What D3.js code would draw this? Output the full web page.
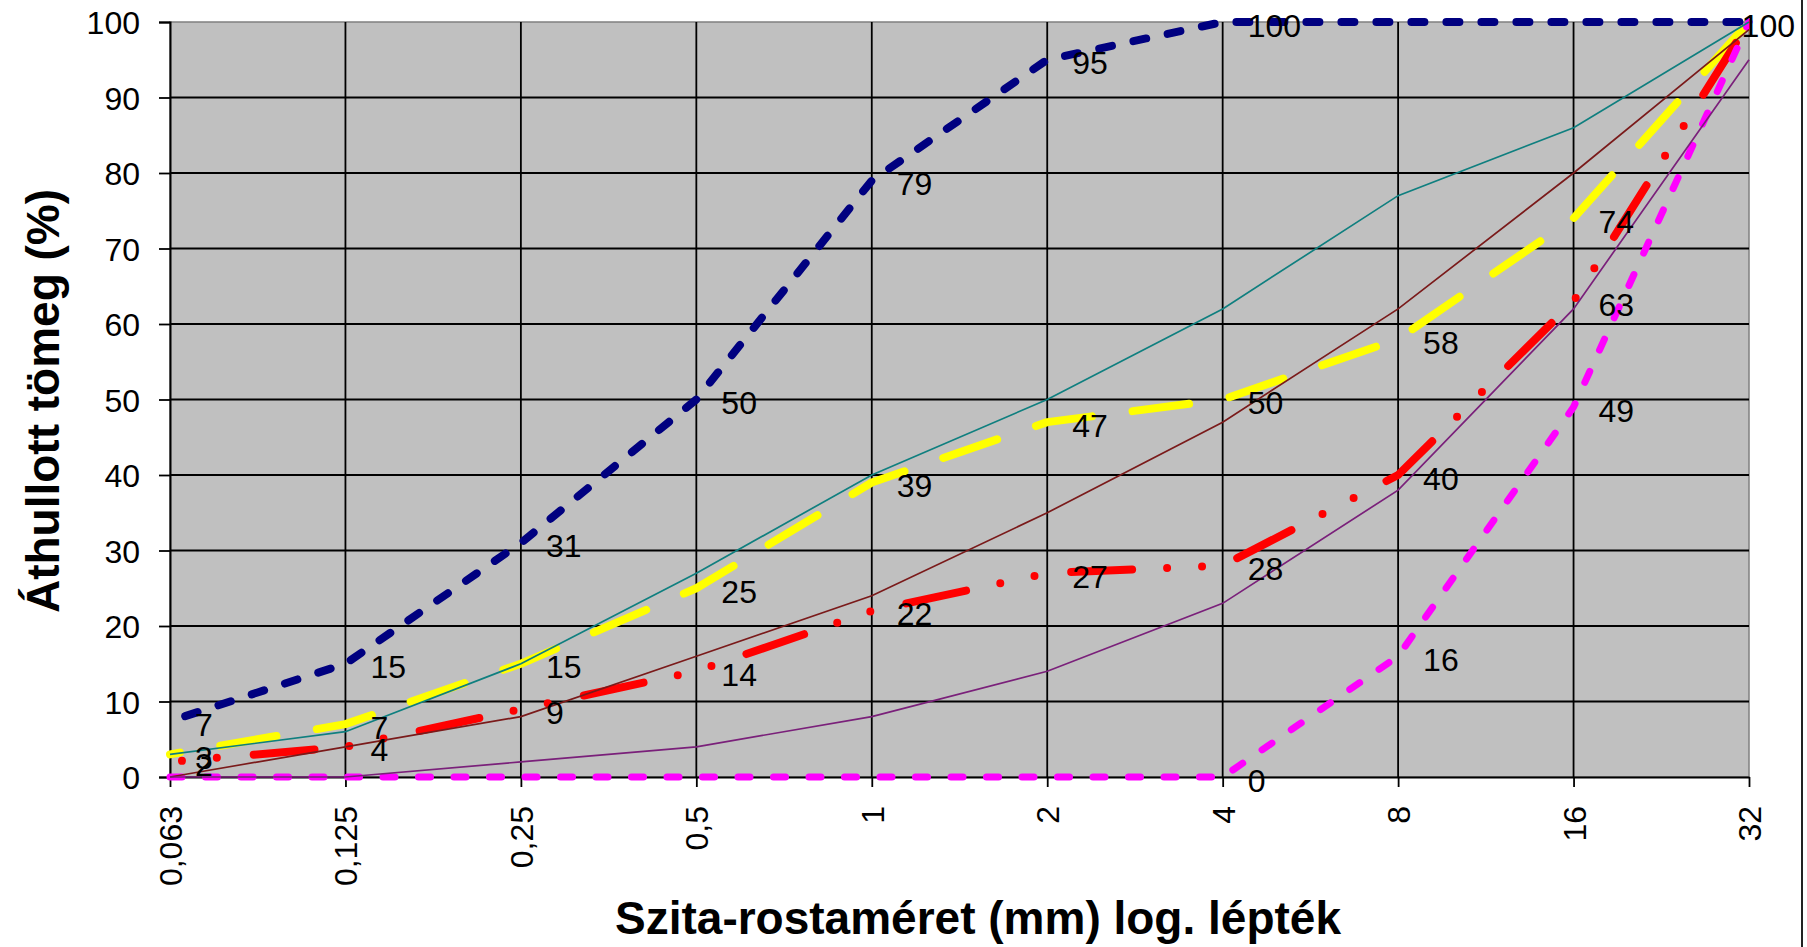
<!DOCTYPE html>
<html>
<head>
<meta charset="utf-8">
<script src="https://cdn.jsdelivr.net/npm/d3@7"></script>
<style>
  body { margin: 0; background: #fff; }
  svg text { font-family: "Liberation Sans", Arial, sans-serif; }
</style>
</head>
<body>
<svg id="chart" width="1807" height="947"></svg>
<script>
// sieve sizes (category axis, log steps)
const sieveSizes = ["0,063", "0,125", "0,25", "0,5", "1", "2", "4", "8", "16", "32"];
const yTicks = [0, 10, 20, 30, 40, 50, 60, 70, 80, 90, 100];

// passing mass (%) for each sample
const sampleNavy    = [7.4, 15, 31, 50, 79, 95, 100, 100, 100, 100];
const sampleYellow  = [3, 7, 15, 25, 39, 47, 50, 58, 74, 100];
const sampleRed     = [2, 4, 9, 14, 22, 27, 28, 40, 63, 100];
const sampleMagenta = [0, 0, 0, 0, 0, 0, 0, 16, 49, 100];

// limit curves (thin lines, no labels)
const limitTeal   = [3, 6, 15, 27, 40, 50, 62, 77, 86, 100];
const limitBrown  = [0, 4, 8, 16, 24, 35, 47, 62, 80, 99];
const limitPurple = [0, 0, 2, 4, 8, 14, 23, 38, 62, 95];

// which points carry a data label
const labelsNavy    = [0, 1, 2, 3, 4, 5, 6];
const labelsYellow  = [0, 1, 2, 3, 4, 5, 6, 7, 8, 9];
const labelsRed     = [0, 1, 2, 3, 4, 5, 6, 7, 8];
const labelsMagenta = [6, 7, 8];

const margin = { left: 170, right: 1749, top: 22, bottom: 777 };

const svg = d3.select("#chart");

const x = d3.scalePoint().domain(sieveSizes).range([margin.left, margin.right]).padding(0);
const y = d3.scaleLinear().domain([0, 100]).range([margin.bottom, margin.top]);

// plot area
svg.append("rect")
  .attr("x", margin.left).attr("y", margin.top)
  .attr("width", margin.right - margin.left)
  .attr("height", margin.bottom - margin.top)
  .attr("fill", "#c0c0c0")
  .attr("stroke", "#808080")
  .attr("stroke-width", 1.5);

// gridlines
svg.append("g").selectAll("line")
  .data(yTicks.filter(d => d > 0 && d < 100))
  .enter().append("line")
  .attr("x1", margin.left).attr("x2", margin.right)
  .attr("y1", d => y(d)).attr("y2", d => y(d))
  .attr("stroke", "#000").attr("stroke-width", 1.8);

svg.append("g").selectAll("line")
  .data(sieveSizes.slice(1, -1))
  .enter().append("line")
  .attr("x1", d => x(d)).attr("x2", d => x(d))
  .attr("y1", margin.top).attr("y2", margin.bottom)
  .attr("stroke", "#000").attr("stroke-width", 1.8);

// y axis
const yAxis = svg.append("g")
  .attr("transform", `translate(${margin.left},0)`)
  .call(d3.axisLeft(y).tickValues(yTicks).tickSize(11).tickPadding(19));
yAxis.select(".domain").attr("stroke", "#000").attr("stroke-width", 2);
yAxis.selectAll(".tick line").attr("stroke", "#000").attr("stroke-width", 1.8);
yAxis.selectAll(".tick text")
  .attr("font-size", "32px").attr("fill", "#000")
  .attr("font-family", "'Liberation Sans', Arial, sans-serif")
  .attr("dy", "0.36em");

// x axis
const xAxis = svg.append("g")
  .attr("transform", `translate(0,${margin.bottom})`)
  .call(d3.axisBottom(x).tickSize(10).tickSizeOuter(0));
xAxis.select(".domain").attr("stroke", "#000").attr("stroke-width", 2);
xAxis.selectAll(".tick line").attr("stroke", "#000").attr("stroke-width", 1.8);
xAxis.selectAll(".tick text")
  .attr("font-size", "32px").attr("fill", "#000")
  .attr("font-family", "'Liberation Sans', Arial, sans-serif")
  .attr("transform", "rotate(-90)")
  .attr("text-anchor", "end")
  .attr("x", -29).attr("y", 0).attr("dy", "0.36em");

const line = d3.line()
  .x((d, i) => x(sieveSizes[i]))
  .y(d => y(d));

// thick sample lines
const thick = [
  { values: sampleNavy, color: "#000080", width: 8, dash: "13,22", offset: 19 },
  { values: sampleYellow, color: "#ffff00", width: 8, dash: "57,41", offset: 47 },
  { values: sampleRed, color: "#ff0000", width: 8, dash: "61,35,0,35,0,37", offset: 84 },
  { values: sampleMagenta, color: "#ff00ff", width: 7, dash: "12,23.5", offset: 0 }
];

svg.append("g").selectAll("path")
  .data(thick)
  .enter().append("path")
  .attr("d", d => line(d.values))
  .attr("fill", "none")
  .attr("stroke", d => d.color)
  .attr("stroke-width", d => d.width)
  .attr("stroke-linecap", "round")
  .attr("stroke-linejoin", "round")
  .attr("stroke-dasharray", d => d.dash)
  .attr("stroke-dashoffset", d => d.offset);

// thin limit lines
const thin = [
  { values: limitTeal, color: "#0f7f7f" },
  { values: limitBrown, color: "#7a1a1a" },
  { values: limitPurple, color: "#7a207a" }
];

svg.append("g").selectAll("path")
  .data(thin)
  .enter().append("path")
  .attr("d", d => line(d.values))
  .attr("fill", "none")
  .attr("stroke", d => d.color)
  .attr("stroke-width", 1.7);

// data labels (right of point, kept inside the chart border)
const labelSets = [
  { values: sampleNavy, idx: labelsNavy },
  { values: sampleYellow, idx: labelsYellow },
  { values: sampleRed, idx: labelsRed },
  { values: sampleMagenta, idx: labelsMagenta }
];

const labelG = svg.append("g");
labelSets.forEach(s => {
  s.idx.forEach(i => {
    const txt = labelG.append("text")
      .attr("font-size", "32px")
      .attr("fill", "#000")
      .attr("x", x(sieveSizes[i]) + 25)
      .attr("y", y(s.values[i]) + 3)
      .attr("dy", "0.36em")
      .text(Math.round(s.values[i]));
    const w = txt.node().getComputedTextLength();
    if (x(sieveSizes[i]) + 25 + w > 1795) txt.attr("x", 1795 - w);
  });
});

// axis titles
svg.append("text")
  .attr("transform", "translate(59,401) rotate(-90)")
  .attr("text-anchor", "middle")
  .attr("font-size", "46px")
  .attr("font-weight", "bold")
  .text("Áthullott tömeg (%)");

svg.append("text")
  .attr("x", 978).attr("y", 934)
  .attr("text-anchor", "middle")
  .attr("font-size", "46px")
  .attr("font-weight", "bold")
  .text("Szita-rostaméret (mm) log. lépték");

// chart border (right edge visible)
svg.append("line")
  .attr("x1", 1802).attr("x2", 1802)
  .attr("y1", 0).attr("y2", 947)
  .attr("stroke", "#222").attr("stroke-width", 2);
</script>
</body>
</html>
